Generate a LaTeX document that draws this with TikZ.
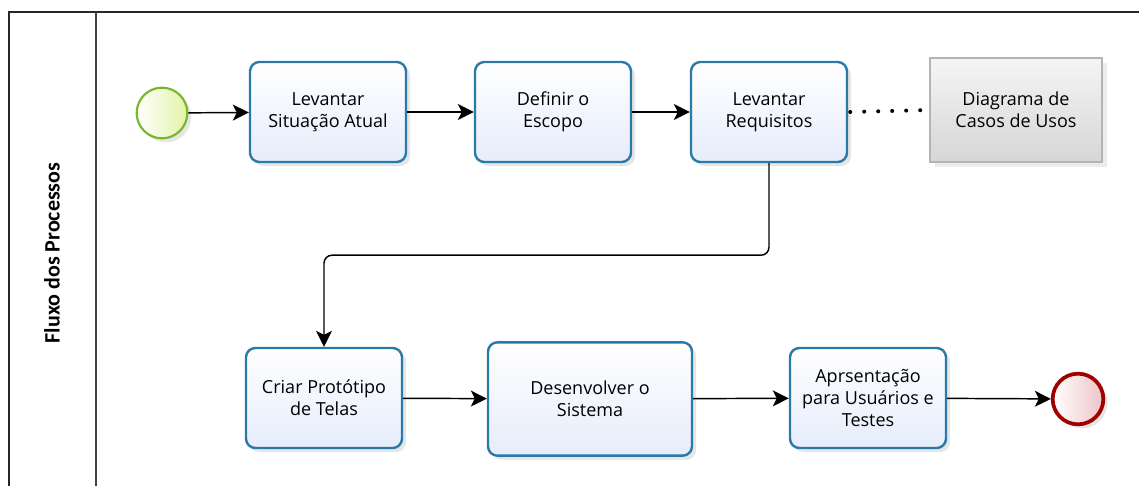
\documentclass[tikz,border=0pt]{standalone}
\usepackage{fontspec}
\setmainfont{Open Sans}
\newfontfamily\lanefont{Carlito}
\usepackage{xcolor}
\usetikzlibrary{arrows.meta,shadows}

\definecolor{taskline}{HTML}{2A7AA8}
\definecolor{taskfill}{HTML}{E6ECFB}
\definecolor{startline}{HTML}{76B82A}
\definecolor{startfill}{HTML}{E2F3A6}
\definecolor{endline}{HTML}{A00000}
\definecolor{endfill}{HTML}{EEC3C6}
\definecolor{docline}{HTML}{B4B4B4}
\definecolor{docfill}{HTML}{D6D6D6}

\begin{document}
\begin{tikzpicture}[x=0.75pt,y=-0.75pt,
    task/.style={draw=taskline, line width=1.8pt, rounded corners=7pt,
        top color=white, bottom color=taskfill, align=center,
        minimum width=117pt, minimum height=75pt, inner sep=0pt,
        font=\fontsize{13.5}{16.5}\selectfont,
        drop shadow={opacity=0.2, shadow xshift=3pt, shadow yshift=-3pt}},
    startev/.style={circle, draw=startline, line width=1.6pt,
        left color=white, right color=startfill, minimum size=38pt, inner sep=0pt,
        drop shadow={opacity=0.2, shadow xshift=3pt, shadow yshift=-3pt}},
    endev/.style={circle, draw=endline, line width=2.8pt,
        left color=white, right color=endfill, minimum size=38pt, inner sep=0pt,
        drop shadow={opacity=0.2, shadow xshift=3pt, shadow yshift=-3pt}},
    artefact/.style={draw=docline, line width=0.8pt, top color=white!96!black,
        bottom color=docfill, align=center, minimum width=129pt, minimum height=78pt,
        inner sep=0pt, font=\fontsize{13.5}{16.5}\selectfont,
        drop shadow={opacity=0.15, shadow xshift=4pt, shadow yshift=-4pt}},
    flow/.style={line width=1.1pt, -{Stealth[length=12pt,width=12pt,inset=3pt]}},
    assoc/.style={line width=3pt, line cap=round, dash pattern=on 0pt off 10.5pt}]
  \useasboundingbox (0,0) rectangle (1139,486);
  % pool and lane
  \draw[line width=1.5pt, draw=black!85] (1139,12) -- (9,12) -- (9,486);
  \draw[line width=1.5pt, draw=black!75] (96,12) -- (96,486);
  \node[rotate=90, font=\lanefont\bfseries\fontsize{16.5}{18}\selectfont] (lane) at (52,253) {Fluxo dos Processos};
  % first row
  \node[startev] (inicio) at (162,113) {};
  \node[task] (situacao) at (328,112) {Levantar\\Situação Atual};
  \node[task] (escopo) at (553,112) {Definir o\\Escopo};
  \node[task] (requisitos) at (769,112) {Levantar\\Requisitos};
  \node[artefact] (casos) at (1016,110) {Diagrama de\\Casos de Usos};
  % second row
  \node[task] (prototipo) at (324,398) {Criar Protótipo\\de Telas};
  \node[task, minimum width=153pt, minimum height=85pt] (sistema) at (590,399) {Desenvolver o\\Sistema};
  \node[task] (apresentacao) at (868,398) {Aprsentação\\para Usuários e\\Testes};
  \node[endev] (fim) at (1078,399) {};
  % connectors
  \draw[flow] (inicio) -- (situacao);
  \draw[flow] (situacao) -- (escopo);
  \draw[flow] (escopo) -- (requisitos);
  \draw[assoc] (requisitos.east) ++(2,0) -- (casos.west);
  \draw[flow, rounded corners=6pt] (requisitos.south) -- ++(0,92) -| (prototipo.north);
  \draw[flow] (prototipo) -- (sistema);
  \draw[flow] (sistema) -- (apresentacao);
  \draw[flow] (apresentacao) -- (fim);
\end{tikzpicture}
\end{document}
